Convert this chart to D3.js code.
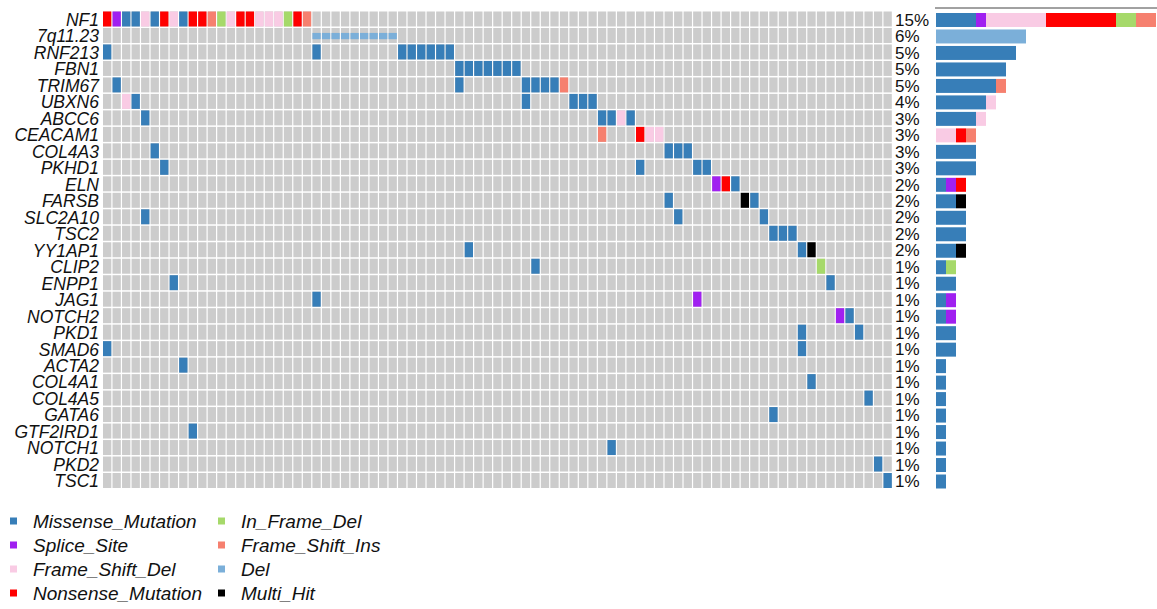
<!DOCTYPE html>
<html>
<head>
<meta charset="utf-8">
<script src="https://cdn.jsdelivr.net/npm/d3@7"></script>
<style>
    body { margin: 0; background: #fff; }
    text { font-family: "Liberation Sans", Arial, sans-serif; }
</style>
</head>
<body>
<div id="chart"></div>
<script>
// oncoplot: genes x altered samples, with per-gene stacked counts on the right

const genes = ["NF1", "7q11.23", "RNF213", "FBN1", "TRIM67", "UBXN6", "ABCC6", "CEACAM1",
    "COL4A3", "PKHD1", "ELN", "FARSB", "SLC2A10", "TSC2", "YY1AP1", "CLIP2", "ENPP1",
    "JAG1", "NOTCH2", "PKD1", "SMAD6", "ACTA2", "COL4A1", "COL4A5", "GATA6", "GTF2IRD1",
    "NOTCH1", "PKD2", "TSC1"];

const pctLabels = ["15%", "6%", "5%", "5%", "5%", "4%", "3%", "3%", "3%", "3%", "2%", "2%",
    "2%", "2%", "2%", "1%", "1%", "1%", "1%", "1%", "1%", "1%", "1%", "1%", "1%", "1%",
    "1%", "1%", "1%"];

const nSamples = 83;

const variantTypes = ["Missense_Mutation", "Splice_Site", "Frame_Shift_Del", "Nonsense_Mutation",
    "In_Frame_Del", "Frame_Shift_Ins", "Del", "Multi_Hit"];
const variantCodes = ["M", "S", "FD", "N", "ID", "FI", "D", "MH"];
const variantColors = ["#377eb8", "#a020f0", "#f9cbe4", "#ff0000", "#a6d96a", "#f6806f", "#7bafd9", "#000000"];

// [gene, sample column, variant code]
const hits = [
    ["NF1", 1, "N"], ["NF1", 2, "S"], ["NF1", 3, "M"], ["NF1", 4, "M"], ["NF1", 5, "FD"],
    ["NF1", 6, "M"], ["NF1", 7, "N"], ["NF1", 8, "FD"], ["NF1", 9, "M"], ["NF1", 10, "N"],
    ["NF1", 11, "N"], ["NF1", 12, "FI"], ["NF1", 13, "ID"], ["NF1", 14, "FD"], ["NF1", 15, "N"],
    ["NF1", 16, "N"], ["NF1", 17, "FD"], ["NF1", 18, "FD"], ["NF1", 19, "FD"], ["NF1", 20, "ID"],
    ["NF1", 21, "N"], ["NF1", 22, "FI"],
    ["7q11.23", 23, "D"], ["7q11.23", 24, "D"], ["7q11.23", 25, "D"], ["7q11.23", 26, "D"],
    ["7q11.23", 27, "D"], ["7q11.23", 28, "D"], ["7q11.23", 29, "D"], ["7q11.23", 30, "D"],
    ["7q11.23", 31, "D"],
    ["RNF213", 1, "M"], ["RNF213", 23, "M"], ["RNF213", 32, "M"], ["RNF213", 33, "M"],
    ["RNF213", 34, "M"], ["RNF213", 35, "M"], ["RNF213", 36, "M"], ["RNF213", 37, "M"],
    ["FBN1", 38, "M"], ["FBN1", 39, "M"], ["FBN1", 40, "M"], ["FBN1", 41, "M"],
    ["FBN1", 42, "M"], ["FBN1", 43, "M"], ["FBN1", 44, "M"],
    ["TRIM67", 2, "M"], ["TRIM67", 38, "M"], ["TRIM67", 45, "M"], ["TRIM67", 46, "M"],
    ["TRIM67", 47, "M"], ["TRIM67", 48, "M"], ["TRIM67", 49, "FI"],
    ["UBXN6", 3, "FD"], ["UBXN6", 4, "M"], ["UBXN6", 45, "M"], ["UBXN6", 50, "M"],
    ["UBXN6", 51, "M"], ["UBXN6", 52, "M"],
    ["ABCC6", 5, "M"], ["ABCC6", 53, "M"], ["ABCC6", 54, "M"], ["ABCC6", 55, "FD"], ["ABCC6", 56, "M"],
    ["CEACAM1", 53, "FI"], ["CEACAM1", 57, "N"], ["CEACAM1", 58, "FD"], ["CEACAM1", 59, "FD"],
    ["COL4A3", 6, "M"], ["COL4A3", 60, "M"], ["COL4A3", 61, "M"], ["COL4A3", 62, "M"],
    ["PKHD1", 7, "M"], ["PKHD1", 57, "M"], ["PKHD1", 63, "M"], ["PKHD1", 64, "M"],
    ["ELN", 65, "S"], ["ELN", 66, "N"], ["ELN", 67, "M"],
    ["FARSB", 60, "M"], ["FARSB", 68, "MH"], ["FARSB", 69, "M"],
    ["SLC2A10", 5, "M"], ["SLC2A10", 61, "M"], ["SLC2A10", 70, "M"],
    ["TSC2", 71, "M"], ["TSC2", 72, "M"], ["TSC2", 73, "M"],
    ["YY1AP1", 39, "M"], ["YY1AP1", 74, "M"], ["YY1AP1", 75, "MH"],
    ["CLIP2", 46, "M"], ["CLIP2", 76, "ID"],
    ["ENPP1", 8, "M"], ["ENPP1", 77, "M"],
    ["JAG1", 23, "M"], ["JAG1", 63, "S"],
    ["NOTCH2", 78, "S"], ["NOTCH2", 79, "M"],
    ["PKD1", 74, "M"], ["PKD1", 80, "M"],
    ["SMAD6", 1, "M"], ["SMAD6", 74, "M"],
    ["ACTA2", 9, "M"],
    ["COL4A1", 75, "M"],
    ["COL4A5", 81, "M"],
    ["GATA6", 71, "M"],
    ["GTF2IRD1", 10, "M"],
    ["NOTCH1", 54, "M"],
    ["PKD2", 82, "M"],
    ["TSC1", 83, "M"]
];

const width = 1157;
const height = 609;

const svg = d3.select("#chart").append("svg")
    .attr("width", width)
    .attr("height", height);

const color = d3.scaleOrdinal().domain(variantCodes).range(variantColors);

const x = d3.scaleBand()
    .domain(d3.range(1, nSamples + 1))
    .range([103, 893]);

const y = d3.scaleBand()
    .domain(genes)
    .range([11.5, 489.5]);

// background grid of all cells
const grid = [];
genes.forEach(function(g) {
    for (let s = 1; s <= nSamples; s++) grid.push([g, s]);
});

svg.append("g").selectAll("rect")
    .data(grid)
    .enter().append("rect")
    .attr("x", d => x(d[1]))
    .attr("y", d => y(d[0]))
    .attr("width", x.bandwidth() - 1.2)
    .attr("height", y.bandwidth() - 1.5)
    .attr("fill", "#cccccc");

svg.append("g").selectAll("rect")
    .data(hits)
    .enter().append("rect")
    .attr("x", d => x(d[1]))
    .attr("y", d => d[2] === "D" ? y(d[0]) + y.bandwidth() * 0.3 : y(d[0]))
    .attr("width", x.bandwidth() - 1.2)
    .attr("height", d => d[2] === "D" ? y.bandwidth() * 0.38 : y.bandwidth() - 1.5)
    .attr("fill", d => color(d[2]));

// gene names
svg.append("g").selectAll("text")
    .data(genes)
    .enter().append("text")
    .attr("x", 99)
    .attr("y", d => y(d) + y.bandwidth() / 2)
    .attr("dy", "0.35em")
    .attr("text-anchor", "end")
    .style("font-style", "italic")
    .style("font-size", "17.5px")
    .attr("fill", "#111")
    .text(d => d);

// percent labels
svg.append("g").selectAll("text")
    .data(pctLabels)
    .enter().append("text")
    .attr("x", 895)
    .attr("y", (d, i) => y(genes[i]) + y.bandwidth() / 2)
    .attr("dy", "0.35em")
    .style("font-size", "17px")
    .attr("fill", "#111")
    .text(d => d);

// stacked counts per gene
const counts = genes.map(function(g) {
    const row = { gene: g };
    variantCodes.forEach(c => row[c] = 0);
    hits.filter(h => h[0] === g).forEach(h => row[h[2]] += 1);
    return row;
});

const stack = d3.stack().keys(variantCodes)(counts);

const xb = d3.scaleLinear().domain([0, 22]).range([936, 1156]);

svg.append("g").selectAll("g")
    .data(stack)
    .enter().append("g")
    .attr("fill", d => color(d.key))
    .selectAll("rect")
    .data(d => d.filter(v => v[1] > v[0]))
    .enter().append("rect")
    .attr("x", d => xb(d[0]))
    .attr("y", d => y(d.data.gene) + 1.5)
    .attr("width", d => xb(d[1]) - xb(d[0]))
    .attr("height", y.bandwidth() - 2.5);

svg.append("line")
    .attr("x1", 935).attr("x2", 1157)
    .attr("y1", 8).attr("y2", 8)
    .attr("stroke", "#444")
    .attr("stroke-width", 1);

// legend
const legend = svg.append("g").selectAll("g")
    .data(variantTypes)
    .enter().append("g")
    .attr("transform", (d, i) => "translate(" + (i < 4 ? 10 : 218) + "," + (521 + (i % 4) * 24) + ")");

legend.append("rect")
    .attr("x", 0).attr("y", -3.5)
    .attr("width", 7).attr("height", 7)
    .attr("fill", (d, i) => variantColors[i]);

legend.append("text")
    .attr("x", 23)
    .attr("dy", "0.35em")
    .style("font-style", "italic")
    .style("font-size", "19px")
    .attr("fill", "#111")
    .text(d => d);
</script>
</body>
</html>
